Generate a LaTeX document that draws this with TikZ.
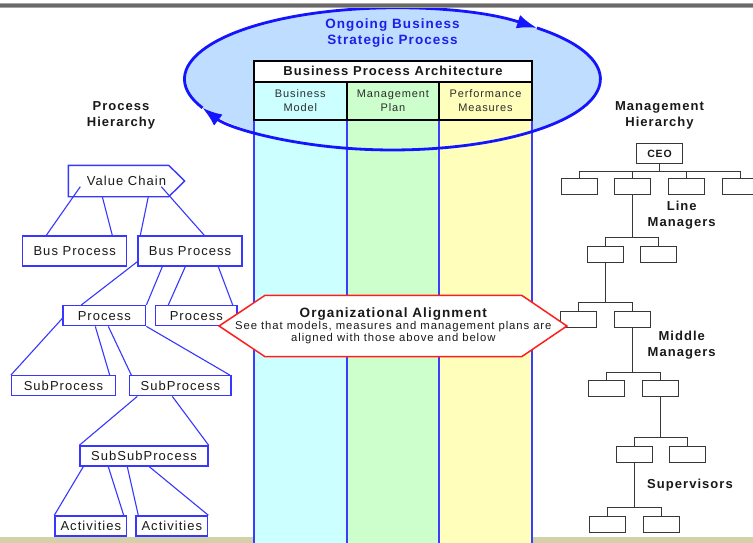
\documentclass[tikz,border=0pt]{standalone}
\usepackage{fontspec}
\setmainfont{Liberation Sans}[LetterSpace=8]
\usetikzlibrary{arrows.meta}

\definecolor{ellfill}{RGB}{191,221,255}
\definecolor{ellblue}{RGB}{20,20,255}
\definecolor{titleblue}{RGB}{30,30,235}
\definecolor{colcyan}{RGB}{204,255,255}
\definecolor{colgreen}{RGB}{204,255,204}
\definecolor{colyellow}{RGB}{255,255,187}
\definecolor{colline}{RGB}{60,60,255}
\definecolor{treeblue}{RGB}{55,55,255}
\definecolor{orggray}{RGB}{55,55,55}
\definecolor{alignred}{RGB}{255,30,30}
\definecolor{barkhaki}{RGB}{212,208,168}
\definecolor{bargray}{RGB}{105,105,105}
\definecolor{bargraylight}{RGB}{165,165,165}
\definecolor{txt}{RGB}{25,25,25}
\definecolor{celltxt}{RGB}{45,45,45}

\begin{document}
\begin{tikzpicture}[x=1pt,y=-1pt,
  pbox/.style={draw=treeblue, fill=white, line width=1.4pt, minimum height=20pt,
    inner sep=0pt, text=txt, font=\fontsize{13}{14}\selectfont},
  pline/.style={draw=treeblue, line width=1.1pt},
  obox/.style={draw=orggray, fill=white, line width=1.7pt, minimum width=36pt,
    minimum height=16pt, inner sep=0pt},
  oline/.style={draw=orggray, line width=1.4pt},
  head/.style={font=\bfseries\fontsize{13}{16}\selectfont, align=center, text=txt},
  cell/.style={draw=black, line width=2pt, minimum height=38.3pt, inner sep=0pt,
    align=center, text=celltxt, font=\fontsize{11}{14}\selectfont},
  ellline/.style={draw=ellblue, line width=2.8pt},
  tipstyle/.style={-{Latex[length=20pt,width=14pt]}}
]
\useasboundingbox (0,0) rectangle (753,543);
\fill[white] (0,0) rectangle (753,543);

% bottom strip
\fill[barkhaki] (0,537.3) rectangle (753,543);

% strategic process ellipse (fill only; outline later)
\fill[ellfill] (392.5,79) ellipse [x radius=208, y radius=71];

% architecture columns running down the page
\fill[colcyan]   (254,120) rectangle (347,543);
\fill[colgreen]  (347,120) rectangle (439,543);
\fill[colyellow] (439,120) rectangle (532,543);
\foreach \cx in {254,347,439,532}
  \draw[colline, line width=1.4pt] (\cx,120) -- (\cx,543);

% ellipse outline with its two arrow heads (clockwise cycle)
\draw[ellline, tipstyle] (202.5,107.9) arc[start angle=156, end angle=314, x radius=208, y radius=71];
\draw[ellline, tipstyle] (536.9,27.9) arc[start angle=314, end angle=516, x radius=208, y radius=71];

% top rule
\fill[bargray] (0,3.2) rectangle (753,7.3);
\draw[bargraylight, line width=0.6pt] (0,3.2) -- (753,3.2);
\draw[bargraylight, line width=0.6pt] (0,7.3) -- (753,7.3);

\node[font=\bfseries\fontsize{13.5}{16}\selectfont, text=titleblue, align=center]
  (osp) at (392.5,33) {Ongoing Business\\Strategic Process};

% business process architecture table
\node[draw=black, line width=2pt, fill=white, minimum width=278pt, minimum height=20.7pt,
  inner sep=0pt, text=txt, font=\bfseries\fontsize{13}{14}\selectfont]
  (bpa) at (393,71.35) {Business Process Architecture};
\node[cell, fill=colcyan, minimum width=92.7pt]  (bm) at (300.35,100.85) {Business\\Model};
\node[cell, fill=colgreen, minimum width=92.3pt] (mp) at (393,100.85) {Management\\Plan};
\node[cell, fill=colyellow, minimum width=93pt]  (pm) at (485.5,100.85) {Performance\\Measures};

% hierarchy headings
\node[head] (ph) at (121,115) {Process\\Hierarchy};
\node[head] (mh) at (659.5,115) {Management\\Hierarchy};

% ---------------- process hierarchy (left) ----------------
\node[pbox, draw=none, fill=none, minimum width=115pt, minimum height=30pt] (vc) at (126.5,181) {Value Chain};
\draw[treeblue, line width=1.4pt] (vc.north west) -- ([xshift=-16pt]vc.north east) -- (vc.east)
  -- ([xshift=-16pt]vc.south east) -- (vc.south west) -- cycle;

\node[pbox, minimum width=104pt, minimum height=30pt] (bp1) at (74.7,251) {Bus Process};
\node[pbox, minimum width=104pt, minimum height=30pt] (bp2) at (190,251) {Bus Process};
\node[pbox, minimum width=82.7pt] (pr1) at (104.35,315.7) {Process};
\node[pbox, minimum width=81.3pt] (pr2) at (196.35,315.7) {Process};
\node[pbox, minimum width=103.6pt] (sp1) at (63.5,385.7) {SubProcess};
\node[pbox, minimum width=101.3pt] (sp2) at (180.35,385.7) {SubProcess};
\node[pbox, minimum width=128pt] (ssp) at (144,456) {SubSubProcess};
\node[pbox, minimum width=71.7pt] (ac1) at (90.85,526) {Activities};
\node[pbox, minimum width=71.7pt] (ac2) at (171.85,526) {Activities};

\draw[pline] ([xshift=12pt,yshift=10pt]vc.south west) -- ([xshift=24.3pt]bp1.north west);
\draw[pline] ([xshift=34pt]vc.south west) -- ([xshift=90.3pt]bp1.north west);
\draw[pline] ([xshift=80pt]vc.south west) -- ([xshift=3pt]bp2.north west);
\draw[pline] ([xshift=93pt,yshift=10pt]vc.south west) -- ([xshift=67pt]bp2.north west);

\draw[pline] ([yshift=5pt]bp2.south west) -- ([xshift=19pt]pr1.north west);
\draw[pline] ([xshift=25pt]bp2.south west) -- (pr1.north east);
\draw[pline] ([xshift=48pt]bp2.south west) -- ([xshift=13.3pt]pr2.north west);
\draw[pline] ([xshift=81pt]bp2.south west) -- ([xshift=-5pt]pr2.north east);

\draw[pline] ([yshift=8pt]pr1.south west) -- (sp1.north west);
\draw[pline] ([xshift=33pt]pr1.south west) -- ([xshift=-6.3pt]sp1.north east);
\draw[pline] ([xshift=46pt]pr1.south west) -- ([xshift=2.3pt]sp2.north west);
\draw[pline] (pr1.south east) -- ([xshift=-2pt]sp2.north east);

\draw[pline] ([xshift=8.3pt]sp2.south west) -- (ssp.north west);
\draw[pline] ([xshift=43.3pt]sp2.south west) -- (ssp.north east);

\draw[pline] ([xshift=4pt]ssp.south west) -- (ac1.north west);
\draw[pline] ([xshift=29pt]ssp.south west) -- ([xshift=-3.7pt]ac1.north east);
\draw[pline] ([xshift=48pt]ssp.south west) -- ([xshift=3pt]ac2.north west);
\draw[pline] ([xshift=70pt]ssp.south west) -- (ac2.north east);

% ---------------- management hierarchy (right) ----------------
\node[obox, minimum width=46pt, minimum height=20pt, text=txt,
  font=\bfseries\fontsize{10.5}{12}\selectfont] (ceo) at (659.5,153.5) {CEO};
\node[obox] (r1a) at (579.5,186.5) {};
\node[obox] (r1b) at (632.5,186.5) {};
\node[obox] (r1c) at (686.5,186.5) {};
\node[obox] (r1d) at (740.5,186.5) {};
\node[obox] (r2a) at (605.5,254.5) {};
\node[obox] (r2b) at (658.5,254.5) {};
\node[obox] (r3a) at (578.5,319.5) {};
\node[obox] (r3b) at (632.5,319.5) {};
\node[obox] (r4a) at (606.5,388.5) {};
\node[obox] (r4b) at (660.5,388.5) {};
\node[obox] (r5a) at (634.5,454.5) {};
\node[obox] (r5b) at (687.5,454.5) {};
\node[obox] (r6a) at (607.5,524.5) {};
\node[obox] (r6b) at (661.5,524.5) {};

\draw[oline] (ceo.south) -- ++(0,7) coordinate (bus1);
\foreach \b in {r1a,r1b,r1c,r1d} \draw[oline] (\b.north) |- (bus1);
\foreach \b in {r2a,r2b} \draw[oline] (\b.north) -- ++(0,-8) -| (r1b.south);
\foreach \b in {r3a,r3b} \draw[oline] (\b.north) -- ++(0,-8) -| (r2a.south);
\foreach \b in {r4a,r4b} \draw[oline] (\b.north) -- ++(0,-7) -| (r3b.south);
\foreach \b in {r5a,r5b} \draw[oline] (\b.north) -- ++(0,-8) -| (r4b.south);
\foreach \b in {r6a,r6b} \draw[oline] (\b.north) -- ++(0,-8) -| (r5a.south);

\node[head] (lm) at (681.7,215) {Line\\Managers};
\node[head] (mm) at (681.7,345.5) {Middle\\Managers};
\node[head] (sv) at (690,485) {Supervisors};

% ---------------- organizational alignment banner ----------------
\node[minimum width=256.7pt, minimum height=60.7pt, inner sep=0pt] (oa) at (393.35,326) {};
\draw[alignred, fill=white, line width=1.5pt] (oa.north west) -- (oa.north east)
  -- ([xshift=45pt]oa.east) -- (oa.south east) -- (oa.south west)
  -- ([xshift=-45.7pt]oa.west) -- cycle;
\node[align=center, text=txt, inner sep=0pt] (oat) at (oa.center)
  {{\bfseries\fontsize{13.5}{14}\selectfont Organizational Alignment}\\[-0.5pt]
   {\fontsize{11.3}{13.5}\selectfont See that models, measures and management plans are}\\
   {\fontsize{11.3}{13.5}\selectfont aligned with those above and below}};
\end{tikzpicture}
\end{document}
